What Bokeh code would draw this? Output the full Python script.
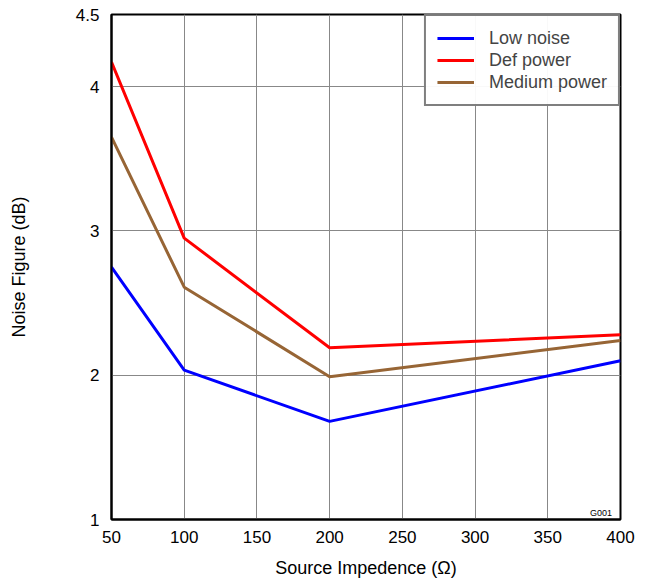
from bokeh.plotting import figure
from bokeh.embed import file_html
from bokeh.resources import INLINE
from bokeh.models import FixedTicker, Legend, LegendItem, Label

x_vals = [50, 100, 200, 400]
low_noise = [2.75, 2.035, 1.68, 2.10]
def_power = [4.17, 2.95, 2.19, 2.28]
medium_power = [3.65, 2.61, 1.99, 2.24]
x_ticks = [50, 100, 150, 200, 250, 300, 350, 400]
y_ticks = [1, 2, 3, 4, 4.5]

FONT = "Liberation Sans"

p = figure(width=640, height=583, output_backend="svg", toolbar_location=None,
           x_range=(50, 400), y_range=(1, 4.5),
           min_border_left=111, min_border_top=14, min_border_right=20, min_border_bottom=64)

p.outline_line_color = "black"
p.outline_line_width = 2
p.background_fill_color = "white"
p.border_fill_color = "white"

p.xaxis.ticker = FixedTicker(ticks=x_ticks)
p.yaxis.ticker = FixedTicker(ticks=y_ticks)
p.yaxis.major_label_overrides = {4.5: "4.5"}
for ax in (p.xaxis, p.yaxis):
    ax.major_tick_line_color = None
    ax.minor_tick_line_color = None
    ax.axis_line_color = "black"
    ax.axis_line_width = 2
    ax.major_label_text_font = FONT
    ax.major_label_text_font_size = "17px"
    ax.major_label_text_color = "black"
    ax.axis_label_text_font = FONT
    ax.axis_label_text_font_size = "18px"
    ax.axis_label_text_font_style = "normal"
    ax.axis_label_text_color = "black"
p.xaxis.axis_label = "Source Impedence (Ω)"
p.yaxis.axis_label = "Noise Figure (dB)"
p.xaxis.major_label_standoff = 5
p.yaxis.major_label_standoff = 6
p.xaxis.axis_label_standoff = 12
p.yaxis.axis_label_standoff = 44

p.xgrid.grid_line_color = "#888888"
p.ygrid.grid_line_color = "#888888"
p.xgrid.grid_line_width = 1
p.ygrid.grid_line_width = 1

r1 = p.line(x_vals, low_noise, line_color="#0000ff", line_width=3)
r2 = p.line(x_vals, def_power, line_color="#ff0000", line_width=3)
r3 = p.line(x_vals, medium_power, line_color="#976535", line_width=3)

legend = Legend(items=[LegendItem(label="Low noise", renderers=[r1]),
                       LegendItem(label="Def power", renderers=[r2]),
                       LegendItem(label="Medium power", renderers=[r3])],
                location="top_right", margin=0, padding=11, spacing=0,
                glyph_width=37, label_standoff=15,
                border_line_color="black", border_line_width=2,
                label_text_font=FONT, label_text_font_size="18px",
                label_height=22, glyph_height=22)
p.add_layout(legend)

p.add_layout(Label(x=379, y=2, x_units="data", y_units="screen",
                   text="G001", text_font=FONT, text_baseline="bottom",
                   text_font_size="9px", text_color="black"))

open("out.html", "w").write(file_html(p, INLINE))
